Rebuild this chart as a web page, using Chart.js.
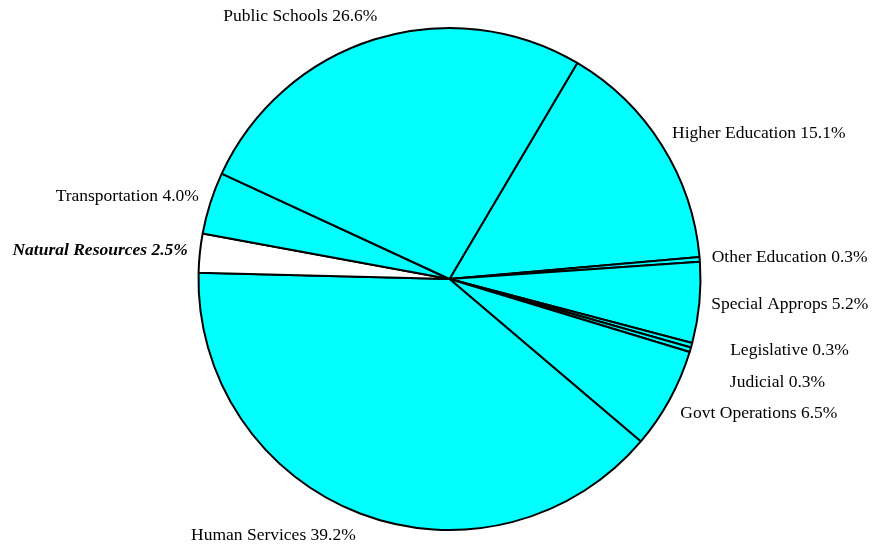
<!DOCTYPE html>
<html>
<head>
<meta charset="utf-8">
<title>Budget by area</title>
<script src="https://cdn.jsdelivr.net/npm/chart.js@4.4.0/dist/chart.umd.min.js"></script>
<style>
  html, body { margin: 0; padding: 0; background: #ffffff; }
  #wrap { width: 876px; height: 548px; }
</style>
</head>
<body>
<div id="wrap"><canvas id="budgetPie" width="876" height="548"></canvas></div>
<script>
// areas, going clockwise from Higher Education
const areas = ['Higher Education', 'Other Education', 'Special Approps', 'Legislative', 'Judicial',
  'Govt Operations', 'Human Services', 'Natural Resources', 'Transportation', 'Public Schools'];
const shares = [15.1, 0.3, 5.2, 0.3, 0.3, 6.5, 39.2, 2.5, 4.0, 26.6];
// the one area that is picked out
const highlighted = ['Natural Resources'];

const sliceColors = areas.map(a => highlighted.includes(a) ? '#ffffff' : '#00ffff');

// small manual nudges (px) for labels that sit awkwardly
const labelNudge = {
  'Legislative': [27, -1],
  'Judicial': [28, 26],
  'Govt Operations': [0, 3],
  'Public Schools': [6, -1]
};

// Plugin that writes "Name xx.x%" outside each slice
const outsideLabels = {
  id: 'outsideLabels',
  afterDatasetsDraw: function(chart) {
    const ctx = chart.ctx;
    const meta = chart.getDatasetMeta(0);
    const values = chart.data.datasets[0].data;
    ctx.save();
    ctx.fillStyle = '#000000';
    ctx.textBaseline = 'middle';
    meta.data.forEach(function(arc, i) {
      const p = arc.getProps(['x', 'y', 'startAngle', 'endAngle', 'outerRadius'], true);
      const mid = (p.startAngle + p.endAngle) / 2;
      const r = p.outerRadius + 12;
      let x = p.x + Math.cos(mid) * r;
      let y = p.y + Math.sin(mid) * r;
      // push top/bottom labels a bit further out
      y += Math.sin(mid) * 11;
      const name = chart.data.labels[i];
      const nudge = labelNudge[name];
      if (nudge) { x += nudge[0]; y += nudge[1]; }
      const bold = highlighted.includes(name);
      ctx.font = (bold ? 'italic bold ' : '') + '17.5px "Liberation Serif", "Times New Roman", serif';
      ctx.textAlign = Math.cos(mid) >= 0 ? 'left' : 'right';
      ctx.fillText(name + ' ' + values[i].toFixed(1) + '%', x, y);
    });
    ctx.restore();
  }
};

var ctx = document.getElementById('budgetPie').getContext('2d');
var budgetPie = new Chart(ctx, {
  type: 'pie',
  data: {
    labels: areas,
    datasets: [{
      data: shares,
      backgroundColor: sliceColors,
      borderColor: '#000000',
      borderWidth: 2,
      hoverOffset: 0
    }]
  },
  options: {
    responsive: false,
    animation: false,
    rotation: 30.6,
    layout: {
      padding: { top: 27, bottom: 17, left: 23, right: 0 }
    },
    plugins: {
      legend: { display: false },
      tooltip: { enabled: false }
    }
  },
  plugins: [outsideLabels]
});
</script>
</body>
</html>
